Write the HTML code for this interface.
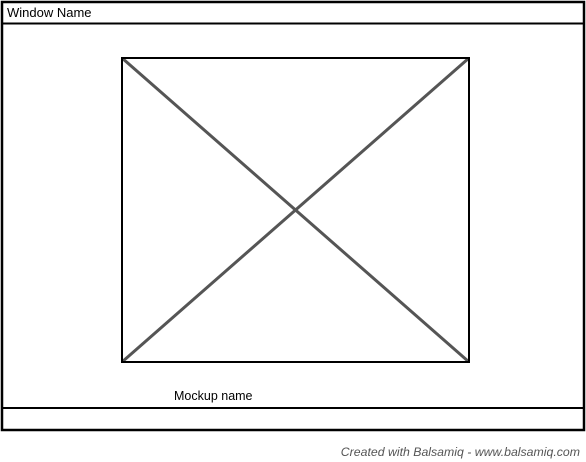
<!DOCTYPE html>
<html><head><meta charset="utf-8"><style>
html,body{margin:0;padding:0;background:#fff;}
svg{display:block;}
</style></head><body>
<svg width="586" height="462" viewBox="0 0 586 462" xmlns="http://www.w3.org/2000/svg">
  <rect x="2" y="2" width="582" height="428" fill="#fff" stroke="#000" stroke-width="2.5"/>
  <line x1="2" y1="23.5" x2="584" y2="23.5" stroke="#000" stroke-width="2"/>
  <text x="7" y="17" font-family="Liberation Sans, sans-serif" font-size="13" fill="#000">Window Name</text>
  <g>
    <line x1="122" y1="58" x2="469" y2="362" stroke="#555" stroke-width="3"/>
    <line x1="469" y1="58" x2="122" y2="362" stroke="#555" stroke-width="3"/>
    <rect x="122" y="58" width="347" height="304" fill="none" stroke="#000" stroke-width="2"/>
  </g>
  <text x="174" y="400" font-family="Liberation Sans, sans-serif" font-size="12.5" fill="#000">Mockup name</text>
  <line x1="2" y1="408" x2="584" y2="408" stroke="#000" stroke-width="2"/>
  <text x="580" y="456" text-anchor="end" font-family="Liberation Sans, sans-serif" font-style="italic" font-size="12.3" fill="#555">Created with Balsamiq - www.balsamiq.com</text>
</svg>
</body></html>
